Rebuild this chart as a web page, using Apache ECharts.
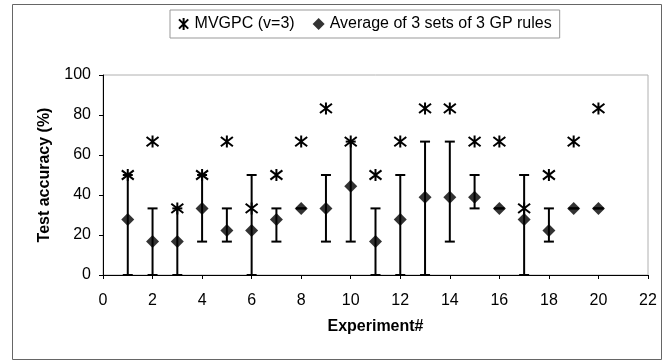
<!DOCTYPE html>
<html><head><meta charset="utf-8">
<script src="https://cdn.jsdelivr.net/npm/echarts@6/dist/echarts.min.js"></script>
<style>html,body{margin:0;padding:0;background:#fff}#c{width:663px;height:361px}</style>
</head><body><div id="c"></div>
<script>
var experiments = [1,2,3,4,5,6,7,8,9,10,11,12,13,14,15,16,17,18,19,20];
var mvgpc = [50,66.7,33.3,50,66.7,33.3,50,66.7,83.3,66.7,50,66.7,83.3,83.3,66.7,66.7,33.3,50,66.7,83.3];
var avgGP = [27.8,16.7,16.7,33.3,22.2,22.2,27.8,33.3,33.3,44.4,16.7,27.8,38.9,38.9,38.9,33.3,27.8,22.2,33.3,33.3];
var gpLow = [0,0,0,16.7,16.7,0,16.7,33.3,16.7,16.7,0,0,0,16.7,33.3,33.3,0,16.7,33.3,33.3];
var gpHigh = [50,33.3,33.3,50,33.3,50,33.3,33.3,50,66.7,33.3,50,66.7,66.7,50,33.3,50,33.3,33.3,33.3];
var xTicks = {min:0, max:22, interval:2};
var yTicks = {min:0, max:100, interval:20};

var starPath = 'path://M0,0L10,10M10,0L0,10M5,-1.5L5,11.5';
var font = 'Liberation Sans, Arial, sans-serif';

var chart = echarts.init(document.getElementById('c'));
chart.setOption({
  animation:false,
  textStyle:{fontFamily:font, color:'#000'},
  graphic:[{type:'rect', shape:{x:12.5,y:4.5,width:649,height:355}, style:{fill:'none', stroke:'#666', lineWidth:1}, silent:true, z:-10}],
  legend:{
    top:10, left:170,
    borderColor:'#999', borderWidth:1, padding:[6,8,6,8],
    itemGap:18, itemWidth:12, itemHeight:12,
    textStyle:{fontSize:16, color:'#000', fontFamily:font},
    data:['MVGPC (v=3)','Average of 3 sets of 3 GP rules']
  },
  grid:{left:103, right:15, top:75, bottom:86, show:true, borderColor:'#b0b0b0', borderWidth:1},
  xAxis:{type:'value', min:xTicks.min, max:xTicks.max, interval:xTicks.interval,
    name:'Experiment#', nameLocation:'middle', nameGap:44,
    nameTextStyle:{fontWeight:'bold', fontSize:16, color:'#000'},
    axisLine:{lineStyle:{color:'#000', width:1}},
    axisTick:{show:true, inside:false, length:4, lineStyle:{color:'#000'}},
    axisLabel:{fontSize:16, color:'#000', margin:18},
    splitLine:{show:false}},
  yAxis:{type:'value', min:yTicks.min, max:yTicks.max, interval:yTicks.interval,
    name:'Test accuracy (%)', nameLocation:'middle', nameGap:50,
    nameTextStyle:{fontWeight:'bold', fontSize:16, color:'#000'},
    axisLine:{show:true, lineStyle:{color:'#000', width:1}},
    axisTick:{show:true, inside:false, length:4, lineStyle:{color:'#000'}},
    axisLabel:{fontSize:16, color:'#000', margin:12},
    splitLine:{show:false}},
  series:[
    {type:'custom', name:'errbar', z:2,
     data: experiments.map(function(x,i){return [x, gpLow[i], gpHigh[i]];}),
     renderItem:function(params, api){
       var x = api.value(0);
       var lo = api.coord([x, api.value(1)]);
       var hi = api.coord([x, api.value(2)]);
       var w = 5;
       var st = {stroke:'#000', lineWidth:2};
       return {type:'group', children:[
         {type:'line', shape:{x1:lo[0], y1:lo[1], x2:hi[0], y2:hi[1]}, style:st},
         {type:'line', shape:{x1:lo[0]-w, y1:lo[1], x2:lo[0]+w, y2:lo[1]}, style:st},
         {type:'line', shape:{x1:hi[0]-w, y1:hi[1], x2:hi[0]+w, y2:hi[1]}, style:st}
       ]};
     },
     encode:{x:0, y:[1,2]}, silent:true},
    {type:'scatter', name:'MVGPC (v=3)', z:4,
     data: experiments.map(function(x,i){return [x, mvgpc[i]];}),
     symbol:starPath, symbolSize:12,
     itemStyle:{color:'rgba(0,0,0,0)', borderColor:'#000', borderWidth:2, opacity:1}},
    {type:'scatter', name:'Average of 3 sets of 3 GP rules', z:3,
     data: experiments.map(function(x,i){return [x, avgGP[i]];}),
     symbol:'diamond', symbolSize:13,
     itemStyle:{color:'#000'}}
  ]
});
</script></body></html>
